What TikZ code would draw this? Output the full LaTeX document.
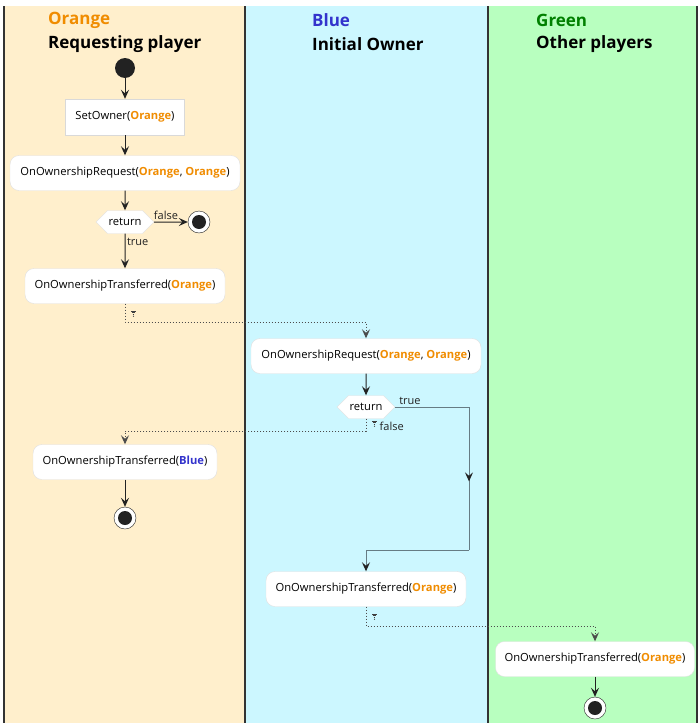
\documentclass[tikz,border=0pt]{standalone}
\usepackage{fontspec}
\setmainfont{Open Sans}
\usetikzlibrary{arrows.meta, shapes.symbols, positioning, decorations.markings}
\definecolor{corange}{HTML}{F08C00}
\definecolor{cblue}{HTML}{3333CC}
\definecolor{cgreen}{HTML}{008000}
\definecolor{lorange}{HTML}{FFEFCC}
\definecolor{lblue}{HTML}{CCF7FF}
\definecolor{lgreen}{HTML}{B8FFBF}
\definecolor{cline}{HTML}{222222}
\definecolor{cgray}{HTML}{667C84}
\newcommand{\org}{\textcolor{corange}{\textbf{Orange}}}
\newcommand{\blu}{\textcolor{cblue}{\textbf{Blue}}}
\tikzset{wifi/.pic={
  \draw[line width=0.8pt, black!75] (-2.5,0) -- (2.5,0) (-1.7,1.7) -- (1.7,1.7) (-0.9,3.4) -- (0.9,3.4);
  \fill[black!75] (0,5.2) circle (0.7pt);
}}

\begin{document}
\begin{tikzpicture}[x=1pt, y=-1pt,
  act/.style={draw=black!12, fill=white, rounded corners=9pt, minimum height=35pt,
              font=\fontsize{11.2}{13}\selectfont, minimum width=#1},
  stepbox/.style={draw=black!15, fill=white, minimum height=36pt, minimum width=119pt,
              font=\fontsize{11.2}{13}\selectfont},
  cond/.style={signal, signal to=east and west, draw=black!12, fill=white,
               minimum width=52pt, minimum height=23pt, inner sep=1pt,
               font=\fontsize{11.2}{13}\selectfont},
  start/.style={circle, fill=cline, minimum size=20pt, inner sep=0pt},
  stop/.style={circle, draw=cline, fill=white, minimum size=22pt, inner sep=0pt,
               path picture={\fill[cline] (path picture bounding box.center) circle (7pt);}},
  arr/.style={-{Stealth[length=9pt, width=8pt, inset=3.5pt]}, line width=1pt, cline},
  sig/.style={arr, dotted, draw=black!70},
  lbl/.style={font=\fontsize{11}{13}\selectfont, text=cline, inner sep=1.5pt},
  lane/.style={fill=#1},
  head/.style={anchor=west, font=\fontsize{17}{20}\selectfont\bfseries, inner sep=0pt}
]
\useasboundingbox (0,0) rectangle (699,723);

% swimlanes
\fill[lane=lorange] (4,6) rectangle (245,723);
\fill[lane=lblue]   (245,6) rectangle (488,723);
\fill[lane=lgreen]  (488,6) rectangle (697,723);
\foreach \x in {4,245,488,697}
  \draw[line width=1.5pt, black!80] (\x,6) -- (\x,723);

\node[head, text=corange] (hOrange) at (48,20) {Orange};
\node[head] (hReq)   at (48,44)  {Requesting player};
\node[head, text=cblue] (hBlue) at (312,20) {Blue};
\node[head] (hOwner) at (312,44) {Initial Owner};
\node[head, text=cgreen] (hGreen) at (536,20) {Green};
\node[head] (hOther) at (536,44) {Other players};

% requesting player
\node[start] (init) at (125,68) {};
\node[stepbox] (setown) at (125,117) {SetOwner(\org)};
\node[act=230pt] (req1) at (125,173) {OnOwnershipRequest(\org, \org)};
\node[cond] (ret1) at (125,222) {return};
\node[stop] (fin1) at (199,222) {};
\node[act=200pt] (t1) at (125,286) {OnOwnershipTransferred(\org)};

% initial owner
\node[act=230pt] (req2) at (366,356) {OnOwnershipRequest(\org, \org)};
\node[cond] (ret2) at (366,407) {return};
\node[act=184pt] (tblue) at (125,462) {OnOwnershipTransferred(\blu)};
\node[stop] (fin2) at (125,518) {};
\node[act=200pt] (t2) at (366,589) {OnOwnershipTransferred(\org)};

% other players
\node[act=199pt] (t3) at (595,659) {OnOwnershipTransferred(\org)};
\node[stop] (fin3) at (595,708) {};

\coordinate (b1) at (125,322);
\coordinate (b2) at (366,431);
\coordinate (b3) at (366,626);
\coordinate (tr1) at (469,407);
\coordinate (tr2) at (469,550);

\draw[arr] (init) -- (setown);
\draw[arr] (setown) -- (req1);
\draw[arr] (req1) -- (ret1);
\draw[arr] (ret1) -- node[above, lbl, pos=0.35] {false} (fin1);
\draw[arr] (ret1) -- node[right, lbl, pos=0.25] {true} (t1);
\draw[sig] (t1) -- (b1) -| (req2);
\pic at (133.5,311) {wifi};

\draw[arr] (req2) -- (ret2);
\draw[line width=1pt, cgray] (ret2.east) -- node[above, lbl, pos=0.2] {true} (tr1);
\draw[line width=1pt, cgray, postaction={decorate},
  decoration={markings, mark=at position 0.52 with {\arrow[cline]{Stealth[length=9pt, width=8pt, inset=3.5pt]}}}]
  (tr1) -- (tr2);
\draw[line width=1pt, cgray, -{Stealth[length=9pt, width=8pt, inset=3.5pt, color=cline]}] (tr2) -| (t2);

\draw[sig] (ret2) -- (b2) -| (tblue);
\pic at (374.5,421) {wifi};
\node[lbl, anchor=west] (lfalse) at (378,426) {false};
\draw[arr] (tblue) -- (fin2);

\draw[sig] (t2) -- (b3) -| (t3);
\pic at (374.5,614) {wifi};
\draw[arr] (t3) -- (fin3);
\end{tikzpicture}
\end{document}
